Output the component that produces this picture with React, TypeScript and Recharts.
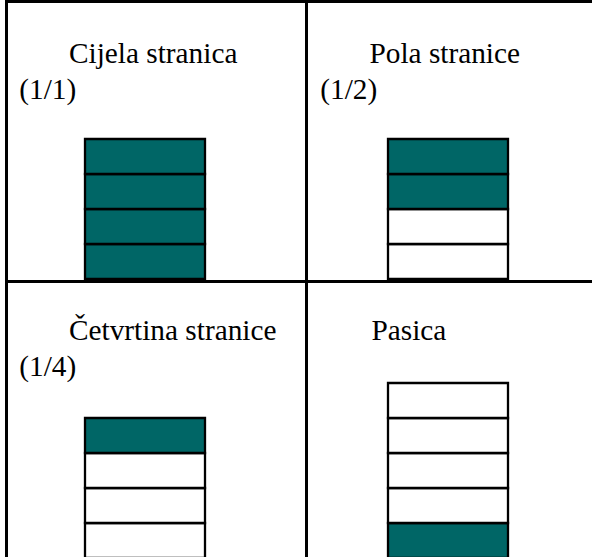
import React from 'react';
import { BarChart, Bar, XAxis, YAxis } from 'recharts';

// page-size labels and which cells (bottom -> top) are filled
const panelTitles = ['Cijela stranica', 'Pola stranice', 'Četvrtina stranice', 'Pasica'];
const panelFractions = ['(1/1)', '(1/2)', '(1/4)', ''];
const fullPageCells = [1, 1, 1, 1];
const halfPageCells = [0, 0, 1, 1];
const quarterPageCells = [0, 0, 0, 1];
const bannerCells = [1, 0, 0, 0, 0];
const panelCells = [fullPageCells, halfPageCells, quarterPageCells, bannerCells];
const cellCapacity = 5;

const FILL = '#006666';
const FONT = '"Liberation Serif", "Times New Roman", serif';
const FONT_SIZE = 29.3;
const BASELINE_OFFSET = 24.5;

// layout (px): quadrant anchors for text and bar
const layout = [
  { titleX: 69, titleY: 63, fracX: 19.3, fracY: 99.5, barX: 85, baseY: 279 },
  { titleX: 369.5, titleY: 63, fracX: 320.3, fracY: 99.5, barX: 388, baseY: 279 },
  { titleX: 69, titleY: 340, fracX: 19.3, fracY: 376.5, barX: 85, baseY: 558 },
  { titleX: 371.5, titleY: 340, fracX: 0, fracY: 0, barX: 388, baseY: 558 },
];

const BAR_W = 120;
const CELL_H = 35;
const PAD = 20;

function Label({ text, x, baseline }: { text: string; x: number; baseline: number }) {
  if (!text) return null;
  return (
    <div
      style={{
        position: 'absolute',
        left: x,
        top: baseline - BASELINE_OFFSET,
        fontFamily: FONT,
        fontSize: FONT_SIZE,
        lineHeight: `${FONT_SIZE}px`,
        whiteSpace: 'nowrap',
        color: '#000',
      }}
    >
      {text}
    </div>
  );
}

function PageBar({ cells, x, baseY }: { cells: number[]; x: number; baseY: number }) {
  const row: Record<string, number | string> = { name: 'page' };
  cells.forEach((_, i) => {
    row[`c${i}`] = 1;
  });
  const plotH = CELL_H * cellCapacity;
  const width = BAR_W + PAD * 2;
  const height = plotH + PAD * 2;
  return (
    <div style={{ position: 'absolute', left: x - PAD, top: baseY - plotH - PAD }}>
      <BarChart
        width={width}
        height={height}
        data={[row]}
        margin={{ top: PAD, right: PAD, bottom: PAD, left: PAD }}
        barCategoryGap={0}
        barGap={0}
      >
        <XAxis dataKey="name" type="category" hide />
        <YAxis type="number" domain={[0, cellCapacity]} hide />
        {cells.map((filled, i) => (
          <Bar
            key={i}
            dataKey={`c${i}`}
            stackId="page"
            fill={filled ? FILL : '#ffffff'}
            stroke="#000"
            strokeWidth={2.3}
            isAnimationActive={false}
          />
        ))}
      </BarChart>
    </div>
  );
}

export default function App() {
  const line = (style: React.CSSProperties) => (
    <div style={{ position: 'absolute', background: '#000', ...style }} />
  );
  return (
    <div
      style={{
        position: 'absolute',
        left: 0,
        top: 0,
        width: 592,
        height: 557,
        overflow: 'hidden',
        background: '#fff',
      }}
    >
      {panelCells.map((cells, i) => (
        <PageBar key={`bar-${i}`} cells={cells} x={layout[i].barX} baseY={layout[i].baseY} />
      ))}
      {line({ left: 5, top: 0, width: 2.5, height: 557 })}
      {line({ left: 5, top: 0, width: 587, height: 2.5 })}
      {line({ left: 305, top: 0, width: 2.5, height: 557 })}
      {line({ left: 5, top: 280, width: 587, height: 2.5 })}
      {panelTitles.map((t, i) => (
        <React.Fragment key={`lbl-${i}`}>
          <Label text={t} x={layout[i].titleX} baseline={layout[i].titleY} />
          <Label text={panelFractions[i]} x={layout[i].fracX} baseline={layout[i].fracY} />
        </React.Fragment>
      ))}
    </div>
  );
}
